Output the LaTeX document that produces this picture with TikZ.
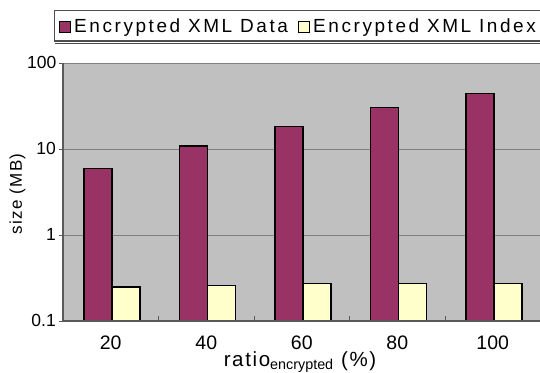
\documentclass[tikz,border=0pt]{standalone}
\usepackage{fontspec}
\setmainfont{Liberation Sans}
\newfontfamily\legfont[LetterSpace=13.5]{Liberation Sans}
\newfontfamily\labfont[LetterSpace=8]{Liberation Sans}
\definecolor{plotbg}{HTML}{C0C0C0}
\definecolor{databar}{HTML}{993366}
\definecolor{idxbar}{HTML}{FFFFCC}
\definecolor{gridc}{HTML}{808080}
\tikzset{
  grid line/.style={draw=gridc, line width=1pt},
  axis line/.style={draw=gridc!70!black, line width=1.2pt},
  databox/.style={fill=databar, draw=black, line width=1.4pt},
  idxbox/.style={fill=idxbar, draw=black, line width=1.4pt},
  ylab/.style={anchor=east, inner sep=0pt, font=\fontsize{17.5}{19}\selectfont},
  xlab/.style={anchor=base, inner sep=0pt, font=\fontsize{19.5}{21}\selectfont},
  legtext/.style={anchor=base west, inner sep=0pt, font=\legfont\fontsize{19}{21}\selectfont},
}
\begin{document}
\begin{tikzpicture}[x=1pt,y=-1pt]
\useasboundingbox (0,0) rectangle (540,372);
% plot area
\fill[plotbg] (63,63) rectangle (545,321);
\foreach \yy in {63,149,235} \draw[grid line] (63,\yy) -- (545,\yy);
% bars: data top / index top
\foreach \i/\dt/\it in {0/168.3/286.9, 1/146/285.2, 2/126.7/283.4, 3/107.7/283.4, 4/93.7/283.4} {
  \pgfmathsetmacro{\xa}{84+95.5*\i}
  \draw[databox] (\xa,321) rectangle ({\xa+28},\dt);
  \draw[idxbox] ({\xa+28},321) rectangle ({\xa+56},\it);
}
\draw[axis line] (63,63) -- (63,321) -- (545,321);
\foreach \i in {1,...,4} \draw[axis line, line width=0.8pt] ({63+95.5*\i},321) -- ({63+95.5*\i},316);
\foreach \yy in {63,149,235,321} \draw[axis line, line width=0.8pt] (63,\yy) -- (59,\yy);
% y labels
\node[ylab] (y100) at (56.5,62.5) {100};
\node[ylab] (y10) at (56,148.5) {10};
\node[ylab] (y1) at (56,234.5) {1};
\node[ylab] (y01) at (56,320.5) {0.1};
% x labels
\foreach \i/\t in {0/20,1/40,2/60,3/80,4/100}
  \node[xlab] (x\t) at ({110.75+95.5*\i},349) {\t};
% axis titles
\node[rotate=90, inner sep=0pt, font=\labfont\fontsize{17}{19}\selectfont] (ytitle) at (17.5,194) {size (MB)};
\node[anchor=base, inner sep=0pt, font=\labfont\fontsize{20.5}{22}\selectfont] (xtitle) at (300,366) {ratio$_{\mathrm{\scriptsize encrypted}}$ (\%)};
% legend
\draw[draw=gridc!60!black, line width=1.2pt, fill=white] (54.5,10.5) rectangle (548,41);
\draw[draw=gridc!60!black, line width=1pt] (54.5,43.5) -- (548,43.5);
\draw[databox, line width=1pt] (59,21) rectangle (70,32.5);
\node[legtext] (leg1) at (74,32.5) {Encrypted XML Data};
\draw[idxbox, line width=1pt] (298,21) rectangle (309,32.5);
\node[legtext] (leg2) at (313,32.5) {Encrypted XML Index};
\end{tikzpicture}
\end{document}
